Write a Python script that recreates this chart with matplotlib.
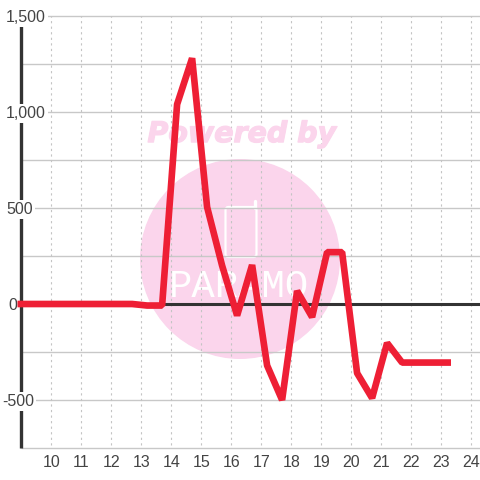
import matplotlib
matplotlib.use('Agg')
import matplotlib.pyplot as plt
import matplotlib.patheffects as pe
from matplotlib.patches import Circle, FancyBboxPatch

hours = [8.9, 9.22, 9.72, 10.22, 10.72, 11.22, 11.72, 12.22, 12.72, 13.22, 13.72, 14.22, 14.72,
         15.22, 15.72, 16.22, 16.72, 17.22, 17.72, 18.22, 18.72, 19.22, 19.72, 20.22, 20.72,
         21.22, 21.72, 22.22, 22.72, 23.35]
values = [0, 0, 0, 0, 0, 0, 0, 0, 0, -8, -8, 1040, 1280,
          505, 200, -60, 203, -320, -500, 68, -68, 270, 270, -360, -490,
          -203, -305, -305, -305, -305]
x_ticks = list(range(10, 25))
y_ticks = [-500, 0, 500, 1000, 1500]
y_minor = [-750, -250, 250, 750, 1250]
y_labels = ['-500', '0', '500', '1,000', '1,500']
y_label_x = [8.38, 8.58, 8.52, 8.52, 8.52]

fig = plt.figure(figsize=(4.8, 4.8), dpi=100)
ax = fig.add_axes([0, 0, 1, 1])
# full-figure axes, limits put the plot area where it sits in the picture
ax.set_xlim(10 - 50.5 / 30, 10 + (480 - 50.5) / 30)
ax.set_ylim(1500 - 464 / 0.192, 1500 + 16 / 0.192)
ax.axis('off')
ax.patch.set_alpha(0)

bg = fig.add_axes([0, 0, 1, 1], zorder=-1)
bg.set_xlim(0, 480)
bg.set_ylim(480, 0)
bg.axis('off')
bg.add_patch(Circle((240, 259), 100, color='#fbd5ec', lw=0))
bg.add_patch(FancyBboxPatch((225.5, 207), 31, 50, boxstyle='round,pad=0,rounding_size=3',
                            fc='none', ec='white', lw=1.6))
bg.plot([255, 255], [201, 208], color='white', lw=2.4, solid_capstyle='round')
bg.text(239, 287, 'PARAMO', color='white', fontsize=28, ha='center', va='center',
        family='Liberation Mono')

for y in y_ticks + y_minor:
    ax.plot([9.0, 24.32], [y, y], color='#c8c8c8', lw=1, zorder=2, solid_capstyle='butt')
for x in x_ticks:
    ax.plot([x, x], [-735, 1500], color='#c4c4c4', lw=0.8, ls=(0, (2, 3)), zorder=2)

ax.plot([9.0, 24.32], [0, 0], color='#333333', lw=2.2, zorder=3, solid_capstyle='butt')
ax.plot([9.0, 9.0], [-750, 1458], color='#333333', lw=2.4, zorder=3, solid_capstyle='butt')

ax.text(16.38, 885, 'Powered by', color='#fbd5ec', fontsize=20.5, ha='center', va='center',
        family='DejaVu Sans', fontweight='bold', style='italic', zorder=4,
        path_effects=[pe.withStroke(linewidth=0.9, foreground='#fbd5ec')])

ax.plot(hours, values, color='#ee1f35', lw=4.8, zorder=6, solid_joinstyle='bevel',
        solid_capstyle='butt', clip_on=False)

for y, lab, x_pos in zip(y_ticks, y_labels, y_label_x):
    ax.text(x_pos, y - 8, lab, color='#444444', fontsize=11.5, family='Liberation Sans',
            ha='left', va='center', zorder=5,
            bbox=dict(fc='white', ec='none', pad=1.5))
for x in x_ticks:
    ax.text(x + 0.03, -825, str(x), color='#444444', fontsize=11.5, family='Liberation Sans',
            ha='center', va='center', zorder=5)

fig.savefig('out.png', dpi=100)
